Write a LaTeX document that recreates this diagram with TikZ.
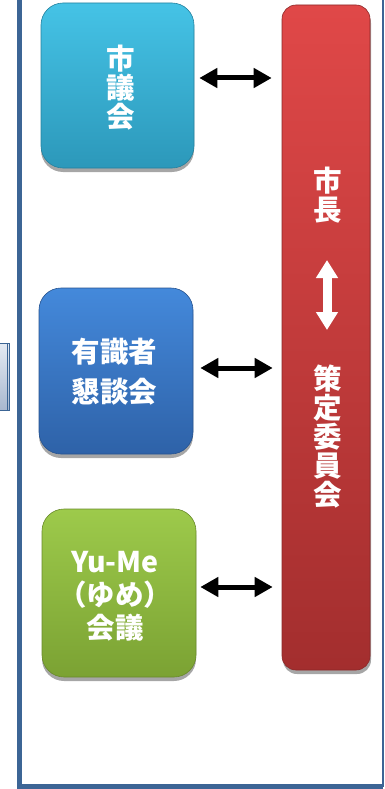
\documentclass[tikz,border=0pt]{standalone}
\usepackage{fontspec}
\newfontfamily\jp{Noto Sans CJK JP}[BoldFont={Noto Sans CJK JP Black}]
\usetikzlibrary{arrows.meta,shadows,calc}
\definecolor{cyanT}{HTML}{45C3E6}
\definecolor{cyanB}{HTML}{2C98BA}
\definecolor{blueT}{HTML}{4489DB}
\definecolor{blueB}{HTML}{2E62A8}
\definecolor{greenT}{HTML}{9DCA4B}
\definecolor{greenB}{HTML}{7BA233}
\definecolor{redT}{HTML}{E04848}
\definecolor{redB}{HTML}{A32E2E}
\definecolor{frameC}{HTML}{3C6595}
\definecolor{stubT}{HTML}{E4EAF3}
\definecolor{stubB}{HTML}{A9B8CF}
\tikzset{
  box/.style={rounded corners=22pt, inner sep=0pt, text=white, align=center,
    drop shadow={shadow xshift=0pt, shadow yshift=-4pt, opacity=0.35, fill=black}},
  redbox/.style={rounded corners=14pt, inner sep=0pt,
    drop shadow={shadow xshift=1pt, shadow yshift=-4pt, opacity=0.35, fill=black}},
  lbl/.style={text=white, align=center, inner sep=0pt, font=\jp\bfseries\fontsize{28.5}{29}\selectfont},
  dbl/.style={line width=5pt, black, {Triangle[length=18pt,width=19pt]}-{Triangle[length=18pt,width=19pt]}},
  wdbl/.style={line width=9pt, white, {Triangle[length=18pt,width=21pt]}-{Triangle[length=18pt,width=21pt]}}
}
\begin{document}
\begin{tikzpicture}[x=1pt,y=-1pt]
\useasboundingbox (0,0) rectangle (385,789);
% stub at left
\draw[frameC, line width=1pt, top color=stubT, bottom color=stubB] (-5,343) rectangle (9,410);
\draw[frameC, line width=1pt] (7,343) -- (7,410);
% frame
\draw[frameC, line width=5pt] (19,-10) -- (19,786.5) -- (383,786.5);
\draw[frameC, line width=2.5pt] (383,786.5) -- (383,-10);
% boxes
\node[box, minimum width=153pt, minimum height=165pt, top color=cyanT, bottom color=cyanB, draw=cyanB!85!black, line width=0.6pt] (c1) at (117.5,85.5) {};
\node[box, minimum width=154pt, minimum height=166pt, top color=blueT, bottom color=blueB, draw=blueB!85!black, line width=0.6pt] (c2) at (116,371) {};
\node[box, minimum width=154pt, minimum height=168pt, top color=greenT, bottom color=greenB, draw=greenB!85!black, line width=0.6pt] (c3) at (119,593) {};
\node[redbox, minimum width=88pt, minimum height=665pt, top color=redT, bottom color=redB, draw=redB!85!black, line width=0.6pt] (red) at (326,337.5) {};
% labels
\node[lbl] (t1) at (121,88) {市\\議\\会};
\node[lbl, font=\jp\bfseries\fontsize{28.5}{40}\selectfont] (t2) at (114.5,372) {有識者\\懇談会};
\node[lbl, font=\jp\bfseries\fontsize{28.5}{33}\selectfont] (t3) at (115,596) {Yu-Me\\（ゆめ）\\会議};
\node[lbl] (m1) at (328,195) {市\\長};
\node[lbl] (m2) at (328,437) {策\\定\\委\\員\\会};
% arrows
\draw[dbl, shorten <=5pt, shorten >=10pt] ([yshift=7.5pt]c1.east) -- ([yshift=7.5pt]c1.east -| red.west);
\draw[dbl, shorten <=7pt, shorten >=9pt] ([yshift=3pt]c2.east) -- ([yshift=3pt]c2.east -| red.west);
\draw[dbl, shorten <=4pt, shorten >=9pt] ([yshift=6pt]c3.east) -- ([yshift=6pt]c3.east -| red.west);
\coordinate (va) at (327,260);
\coordinate (vb) at (327,330);
\draw[wdbl] (va) -- (vb);
\end{tikzpicture}
\end{document}
